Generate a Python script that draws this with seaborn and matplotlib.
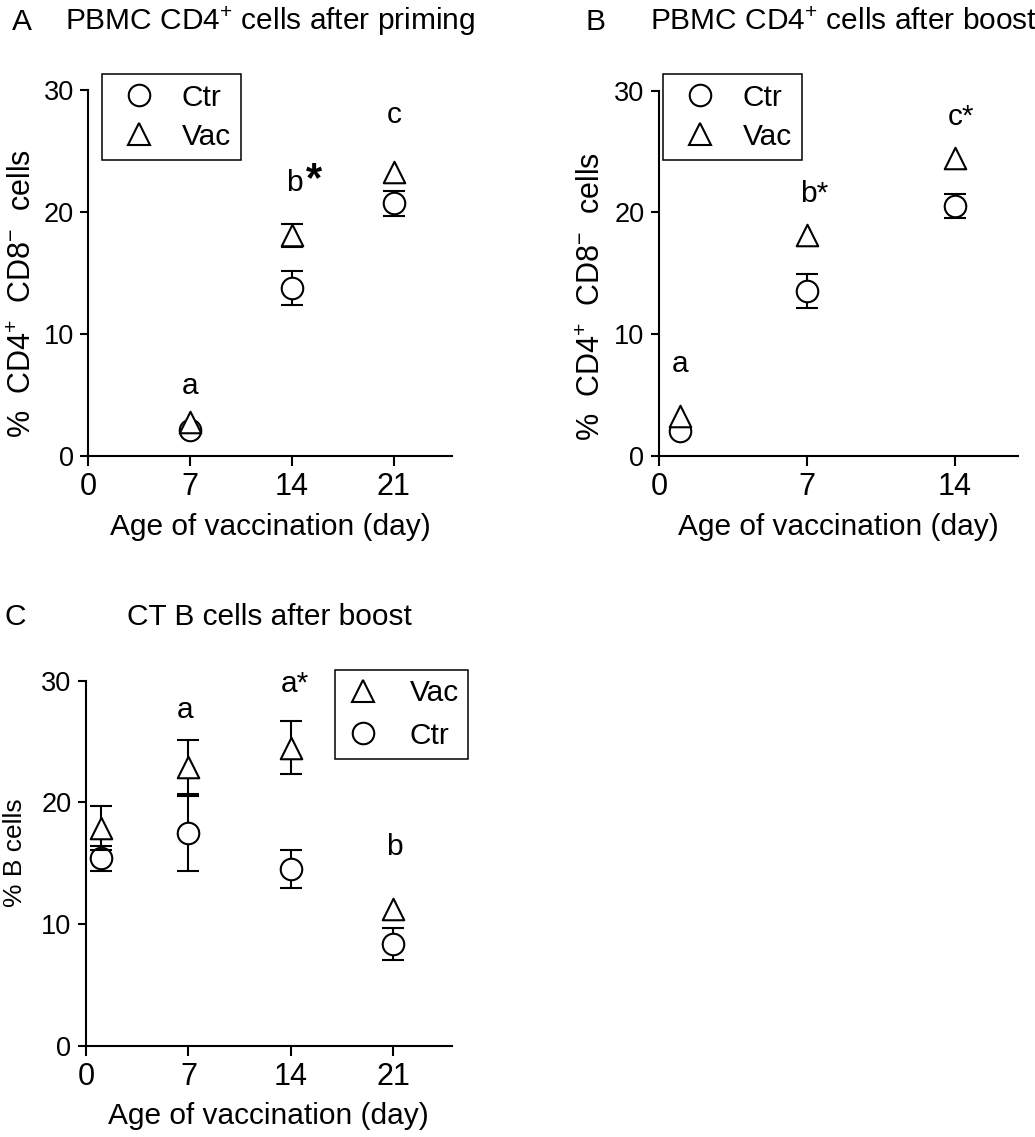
import matplotlib
matplotlib.use("Agg")
import matplotlib.pyplot as plt
from matplotlib.lines import Line2D
import numpy as np
import pandas as pd
import seaborn as sns

# ---- data: mean % of cells and SEM per sampling day (0 = bar not drawn) ----
# A: PBMC CD4+ after priming
a_days = [7, 14, 21]
a_ctr = [2.1, 13.8, 20.7]
a_ctr_sem = [0.0, 1.4, 1.05]
a_vac = [2.8, 18.1, 23.3]
a_vac_sem = [0.0, 0.95, 0.0]
a_letters = ["a", "b", "c"]

# B: PBMC CD4+ after boost
b_days = [1, 7, 14]
b_ctr = [2.0, 13.55, 20.5]
b_ctr_sem = [0.0, 1.4, 1.0]
b_vac = [3.3, 18.1, 24.5]
b_vac_sem = [0.0, 0.0, 0.0]
b_letters = ["a", "b*", "c*"]

# C: CT B cells after boost
c_days = [1, 7, 14, 21]
c_ctr = [15.4, 17.45, 14.5, 8.35]
c_ctr_sem = [1.0, 3.05, 1.55, 1.3]
c_vac = [17.9, 22.9, 24.5, 11.2]
c_vac_sem = [1.8, 2.2, 2.2, 0.0]
c_letters = ["a", "a*", "b"]

groups = ["Ctr", "Vac"]
group_markers = {"Ctr": "o", "Vac": "^"}

xlabel = "Age of vaccination (day)"
cd4_ylabel = "%  CD4$^{+}$  CD8$^{-}$  cells"
b_ylabel = "% B cells"

# ---- style ----
sns.set_style("ticks")
plt.rcParams["font.family"] = ["Liberation Sans", "DejaVu Sans"]
plt.rcParams["mathtext.fontset"] = "custom"
plt.rcParams["mathtext.rm"] = "Liberation Sans"
plt.rcParams["mathtext.it"] = "Liberation Sans:italic"
plt.rcParams["mathtext.bf"] = "Liberation Sans:bold"
plt.rcParams["axes.linewidth"] = 1.5
plt.rcParams["axes.edgecolor"] = "black"
plt.rcParams["text.color"] = "black"
plt.rcParams["axes.labelcolor"] = "black"
plt.rcParams["xtick.color"] = "black"
plt.rcParams["ytick.color"] = "black"

FS = 21.5
MS = 15.5
LW = 1.5


def frame(days, ctr, ctr_sem, vac, vac_sem):
    rows = []
    for d, m, s in zip(days, ctr, ctr_sem):
        rows.append({"day": d, "pct": m, "sem": s, "group": "Ctr"})
    for d, m, s in zip(days, vac, vac_sem):
        rows.append({"day": d, "pct": m, "sem": s, "group": "Vac"})
    return pd.DataFrame(rows)


def draw_points(ax, df):
    z = 2
    for g in groups:
        sub = df[df["group"] == g]
        bars = sub[sub["sem"] > 0]
        if len(bars):
            ax.errorbar(bars["day"], bars["pct"], yerr=bars["sem"], fmt="none",
                        ecolor="black", elinewidth=LW, capsize=8, capthick=LW,
                        zorder=z, clip_on=False)
        sns.scatterplot(data=sub, x="day", y="pct", marker=group_markers[g],
                        s=MS ** 2, color="white", edgecolor="black",
                        linewidth=LW, zorder=z + 1, legend=False, ax=ax,
                        clip_on=False)
        z += 2


def style_axes(ax, xticks, xmax):
    ax.set_xlim(0, xmax)
    ax.set_ylim(0, 30)
    ax.set_xticks(xticks)
    ax.set_yticks([0, 10, 20, 30])
    ax.tick_params(axis="both", direction="out", width=LW, color="black")
    ax.tick_params(axis="x", length=7, pad=4.5, labelsize=22)
    ax.tick_params(axis="y", length=6, pad=4.5, labelsize=19.5)
    sns.despine(ax=ax)
    ax.set_xlabel(xlabel, fontsize=FS)


def legend(ax, order, **kw):
    handles = [Line2D([], [], linestyle="none", marker=group_markers[g],
                      markersize=MS, markerfacecolor="white",
                      markeredgecolor="black", markeredgewidth=LW)
               for g in order]
    leg = ax.legend(handles, order, fontsize=FS, frameon=True, fancybox=False,
                    framealpha=1, edgecolor="black", borderaxespad=0, **kw)
    leg.get_frame().set_linewidth(1.1)
    return leg


fig = plt.figure(figsize=(10.35, 11.37), dpi=100)
H = 1137.0
W = 1035.0

# ---- panel A ----
axA = fig.add_axes([88.3 / W, 1 - 456 / H, 363.4 / W, 366 / H])
dfA = frame(a_days, a_ctr, a_ctr_sem, a_vac, a_vac_sem)
draw_points(axA, dfA)
style_axes(axA, [0, 7, 14, 21], 25)
axA.set_ylabel(cd4_ylabel, fontsize=22, va="center")
axA.yaxis.set_label_coords(-0.18, 0.443)
axA.xaxis.set_label_coords(0.5, -0.157)
legend(axA, ["Ctr", "Vac"], loc="upper left", bbox_to_anchor=(0.037, 1.044),
       borderpad=0.33, handlelength=1.83, handletextpad=0.52, labelspacing=0.36)
axA.text(7.0, 5.1, a_letters[0], ha="center", va="baseline", fontsize=FS)
axA.text(14.2, 21.7, a_letters[1], ha="center", va="baseline", fontsize=FS)
axA.text(15.0, 21.7, "*", ha="left", va="baseline", fontsize=30,
         fontweight="bold")
axA.text(21.05, 27.3, a_letters[2], ha="center", va="baseline", fontsize=FS)

# ---- panel B ----
axB = fig.add_axes([659 / W, 1 - 455.7 / H, 359 / W, 365 / H])
dfB = frame(b_days, b_ctr, b_ctr_sem, b_vac, b_vac_sem)
draw_points(axB, dfB)
style_axes(axB, [0, 7, 14], 17)
axB.set_ylabel(cd4_ylabel, fontsize=22, va="center")
axB.yaxis.set_label_coords(-0.187, 0.435)
axB.xaxis.set_label_coords(0.5, -0.157)
legend(axB, ["Ctr", "Vac"], loc="upper left", bbox_to_anchor=(0.0103, 1.046),
       borderpad=0.33, handlelength=1.83, handletextpad=0.52, labelspacing=0.36)
axB.text(1.0, 6.9, b_letters[0], ha="center", va="baseline", fontsize=FS)
axB.text(6.7, 20.85, b_letters[1], ha="left", va="baseline", fontsize=FS)
axB.text(13.68, 27.15, b_letters[2], ha="left", va="baseline", fontsize=FS)

# ---- panel C ----
axC = fig.add_axes([86 / W, 1 - 1045.7 / H, 365.7 / W, 365 / H])
dfC = frame(c_days, c_ctr, c_ctr_sem, c_vac, c_vac_sem)
draw_points(axC, dfC)
style_axes(axC, [0, 7, 14, 21], 25)
axC.set_ylabel(b_ylabel, fontsize=19, va="center")
axC.yaxis.set_label_coords(-0.194, 0.528)
axC.xaxis.set_label_coords(0.5, -0.153)
legend(axC, ["Vac", "Ctr"], loc="upper right", bbox_to_anchor=(1.0446, 1.029),
       borderpad=0.3, handlelength=1.23, handletextpad=0.97, labelspacing=0.49)
axC.text(6.8, 26.9, c_letters[0], ha="center", va="baseline", fontsize=FS)
axC.text(13.3, 29.1, c_letters[1], ha="left", va="baseline", fontsize=FS)
axC.text(21.08, 15.67, c_letters[2], ha="center", va="baseline", fontsize=FS)

# ---- panel titles ----
fig.text(12 / W, 1 - 30 / H, "A", fontsize=FS, va="baseline")
fig.text(65 / W, 1 - 30 / H, "PBMC CD4$^{+}$ cells after priming",
         fontsize=FS, va="baseline")
fig.text(586 / W, 1 - 30 / H, "B", fontsize=FS, va="baseline")
fig.text(650 / W, 1 - 30 / H, "PBMC CD4$^{+}$ cells after boost",
         fontsize=FS, va="baseline")
fig.text(4 / W, 1 - 625 / H, "C", fontsize=FS, va="baseline")
fig.text(127 / W, 1 - 625 / H, "CT B cells after boost",
         fontsize=FS, va="baseline")

fig.savefig("out.png", dpi=100, facecolor="white")
